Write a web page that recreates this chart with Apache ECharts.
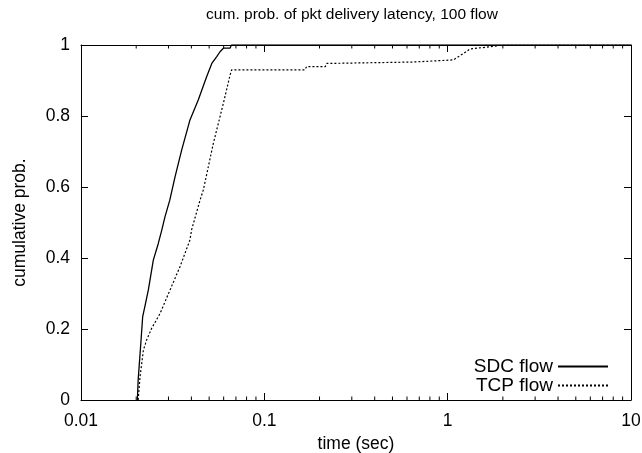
<!DOCTYPE html>
<html>
<head>
<meta charset="utf-8">
<script src="https://cdn.jsdelivr.net/npm/echarts@6/dist/echarts.min.js"></script>
<style>html,body{margin:0;padding:0;background:#fff;}#c{width:642px;height:453px;}</style>
</head>
<body>
<div id="c"></div>
<script>
var titleText = 'cum. prob. of pkt delivery latency, 100 flow';
var xName = 'time (sec)';
var yName = 'cumulative prob.';
var xTicks = [0.01, 0.1, 1, 10];
var xMinorTicks = [0.02,0.03,0.04,0.05,0.06,0.07,0.08,0.09,0.2,0.3,0.4,0.5,0.6,0.7,0.8,0.9,2,3,4,5,6,7,8,9];
var seriesNames = ['SDC flow', 'TCP flow'];
var sdcTime = [0.0203, 0.0205, 0.0212, 0.0217, 0.0223, 0.0233, 0.0248, 0.0264, 0.0276, 0.0287, 0.0305, 0.0326, 0.0354, 0.0393, 0.0436, 0.0485, 0.0517, 0.0550, 0.0573, 0.0598, 0.0650, 0.0661, 10];
var sdcProb = [0, 0.056, 0.16, 0.235, 0.263, 0.31, 0.394, 0.441, 0.479, 0.516, 0.563, 0.629, 0.704, 0.789, 0.845, 0.911, 0.948, 0.967, 0.981, 0.991, 0.991, 1.0, 1.0];
var tcpTime = [0.0205, 0.0210, 0.0219, 0.0228, 0.0243, 0.0270, 0.0306, 0.0347, 0.0393, 0.0401, 0.0446, 0.0465, 0.0527, 0.0598, 0.0650, 0.0663, 0.1667, 0.170, 0.215, 0.219, 0.647, 1.074, 1.218, 1.325, 1.634, 1.932, 2.48, 10];
var tcpProb = [0, 0.066, 0.141, 0.169, 0.202, 0.244, 0.31, 0.376, 0.451, 0.479, 0.563, 0.592, 0.723, 0.836, 0.915, 0.93, 0.93, 0.939, 0.939, 0.948, 0.952, 0.958, 0.976, 0.989, 0.994, 0.999, 1.0, 1.0];

function zip(a, b) { return a.map(function (v, i) { return [v, b[i]]; }); }
var font = 'Liberation Sans, Arial, Helvetica, sans-serif';

var chart = echarts.init(document.getElementById('c'));
var axisCommonX = {
  type: 'log', logBase: 10, min: 0.01, max: 10,
  axisLine: { show: true, onZero: false, lineStyle: { color: '#000', width: 1 } },
  axisTick: { show: true, inside: true, length: 7, lineStyle: { color: '#000' } },
  splitLine: { show: false }, minorTick: { show: false }
};
var axisCommonY = {
  type: 'value', min: 0, max: 1, interval: 0.2,
  axisLine: { show: true, lineStyle: { color: '#000', width: 1 } },
  axisTick: { show: true, inside: true, length: 7, lineStyle: { color: '#000' } },
  splitLine: { show: false }
};
chart.setOption({
  animation: false,
  title: { text: titleText, left: 347, textAlign: 'center', top: 2,
    textStyle: { fontFamily: font, fontSize: 15.5, fontWeight: 'normal', color: '#000' } },
  grid: { left: 81, right: 11, top: 45, bottom: 53, containLabel: false, outerBoundsMode: 'none' },
  legend: {
    data: seriesNames, orient: 'vertical', right: 28, top: 352, align: 'right',
    itemWidth: 50, itemHeight: 10, itemGap: 0,
    itemStyle: { opacity: 0 },
    textStyle: { fontFamily: font, fontSize: 19, lineHeight: 17, color: '#000' }
  },
  xAxis: [
    Object.assign({}, axisCommonX, {
      position: 'bottom', name: xName, nameLocation: 'middle', nameGap: 29,
      nameTextStyle: { fontFamily: font, fontSize: 17.5, color: '#000' },
      axisLabel: { show: true, margin: 12, fontFamily: font, fontSize: 17.5, color: '#000',
        formatter: function (v) { return xTicks.indexOf(+v.toPrecision(3)) >= 0 ? String(+v.toPrecision(3)) : ''; } }
    }),
    Object.assign({}, axisCommonX, { position: 'top', axisLabel: { show: false } })
  ],
  yAxis: [
    Object.assign({}, axisCommonY, {
      position: 'left', name: yName, nameLocation: 'middle', nameGap: 52,
      nameTextStyle: { fontFamily: font, fontSize: 17.5, color: '#000' },
      axisLabel: { show: true, margin: 11, fontFamily: font, fontSize: 17.5, color: '#000',
        formatter: function (v) { return String(+v.toFixed(1)); } }
    }),
    Object.assign({}, axisCommonY, { position: 'right', axisLabel: { show: false } })
  ],
  series: [
    { name: seriesNames[0], type: 'line', data: zip(sdcTime, sdcProb), showSymbol: false, symbol: 'none',
      lineStyle: { color: '#000', width: 1.3 }, itemStyle: { color: '#000' }, clip: true },
    { name: seriesNames[1], type: 'line', data: zip(tcpTime, tcpProb), showSymbol: false, symbol: 'none',
      lineStyle: { color: '#000', width: 1.2, type: [2, 2] }, itemStyle: { color: '#000' }, clip: true },
    { type: 'custom', data: xMinorTicks.map(function (v) { return [v]; }), silent: true,
      renderItem: function (params, api) {
        var b = api.coord([api.value(0), 0]);
        var t = api.coord([api.value(0), 1]);
        return { type: 'group', children: [
          { type: 'line', shape: { x1: b[0], y1: b[1], x2: b[0], y2: b[1] - 3.5 }, style: { stroke: '#000', lineWidth: 1 } },
          { type: 'line', shape: { x1: t[0], y1: t[1], x2: t[0], y2: t[1] + 3.5 }, style: { stroke: '#000', lineWidth: 1 } }
        ] };
      } }
  ]
});
</script>
</body>
</html>
